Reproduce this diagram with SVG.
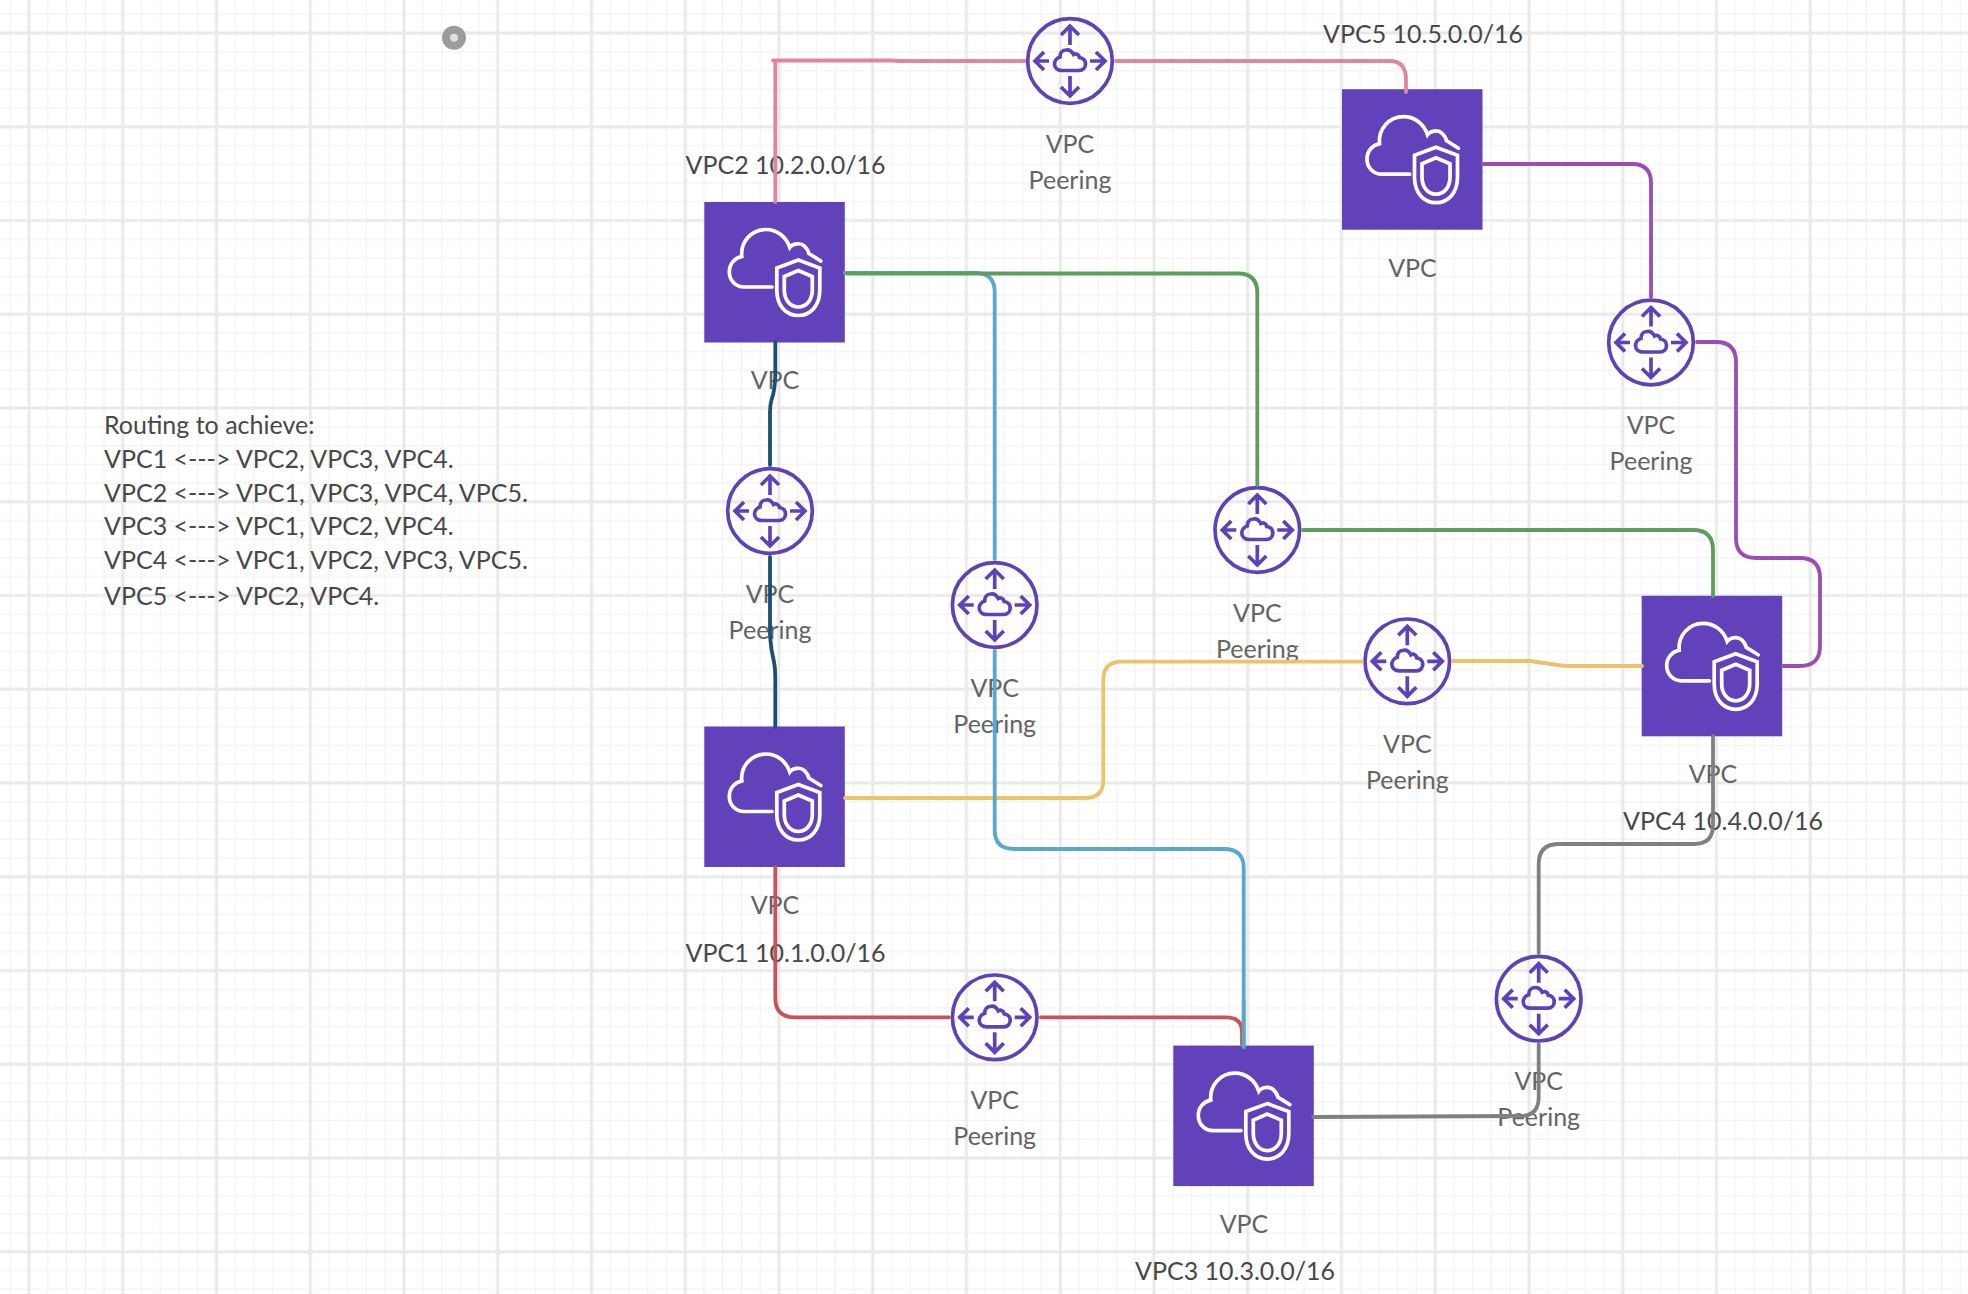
<svg xmlns="http://www.w3.org/2000/svg" width="1968" height="1294" viewBox="0 0 1968 1294">
<style>
text{font-family:Lato,"Liberation Sans",sans-serif;font-size:25px}
.cap{fill:#646464;text-anchor:middle}
.lbl{fill:#484848}
.note{fill:#484848}
.box{fill:#6142bb}
.ws{fill:none;stroke:#fff;stroke-width:3.7;stroke-linecap:round;stroke-linejoin:miter}
.ps{fill:none;stroke:#5f42b8;stroke-width:3.7;stroke-linecap:butt;stroke-linejoin:miter}
.c{fill:none;stroke-width:3.8;stroke-linecap:round;stroke-linejoin:round}
</style>
<defs>
<pattern id="grid" x="29" y="33" width="93.75" height="93.75" patternUnits="userSpaceOnUse">
<path d="M18.75 0V93.75M37.5 0V93.75M56.25 0V93.75M75 0V93.75M0 18.75H93.75M0 37.5H93.75M0 56.25H93.75M0 75H93.75" fill="none" stroke="#f3f3f3" stroke-width="1.2"/>
<path d="M0 0V93.75M0 0H93.75M93.75 0V93.75M0 93.75H93.75" fill="none" stroke="#e9e9e9" stroke-width="3"/>
</pattern>
<g id="vpc-icon">
<rect class="box" width="140.5" height="140.5"/>
<path class="ws" d="M67.7 85H40C31 85 25 78 25 70C25 62 30 56 37.5 54.5C36 40 47 27.5 61.5 27.5C73 27.5 82 35 85.5 45.5C88 42 96 40 100 44C102 46 104 48 104.5 51.5L116.5 59"/>
<path class="ws" d="M94 58L115.5 66V88C115.5 104 106 113.5 94 113.5C82 113.5 72.5 104 72.5 88V66Z"/>
<path class="ws" d="M94 68.5L108 74.5V88C108 98 102 105 94 105C86 105 80 98 80 88V74.5Z"/>
</g>
<g id="peer-icon">
<circle class="ps" r="42.3"/>
<path class="ps" d="M0-35V-16M-9-26L0-35L9-26M0 35V15M-9 26L0 35L9 26M-35 0H-21M-26-9L-35 0L-26 9M35 0H20M26-9L35 0L26 9"/>
<path class="ps" d="M-8 9.5H9C13 9.5 15.5 6.5 15.5 3C15.5-.5 13-3 9.5-3.5C9-6.5 6-8 3.5-6.5C2-9.5-1-11.5-4-11C-8-11-10-7.5-10-4C-13-3-15.5 0-15.5 3C-15.5 7-12 9.5-8 9.5Z"/>
</g>
</defs>
<rect width="1968" height="1294" fill="#fff"/>
<rect width="1968" height="1294" fill="url(#grid)"/>
<g id="marker-dot"><ellipse cx="454" cy="37.7" rx="12" ry="12" fill="#9c9c9c"/><circle cx="454" cy="37.7" r="4" fill="#e0e0e0"/></g>
<g id="routing-note">
<text class="note" x="104" y="434">Routing to achieve:</text>
<text class="note" x="104" y="468">VPC1 &lt;---&gt; VPC2, VPC3, VPC4.</text>
<text class="note" x="104" y="502">VPC2 &lt;---&gt; VPC1, VPC3, VPC4, VPC5.</text>
<text class="note" x="104" y="535">VPC3 &lt;---&gt; VPC1, VPC2, VPC4.</text>
<text class="note" x="104" y="569">VPC4 &lt;---&gt; VPC1, VPC2, VPC3, VPC5.</text>
<text class="note" x="104" y="605">VPC5 &lt;---&gt; VPC2, VPC4.</text>
</g>
<g id="vpc2"><use href="#vpc-icon" x="704.3" y="202"/><text class="cap" x="775" y="389">VPC</text><text class="lbl" x="685.5" y="174">VPC2 10.2.0.0/16</text></g>
<g id="vpc1"><use href="#vpc-icon" x="704.3" y="726.5"/><text class="cap" x="775" y="914">VPC</text><text class="lbl" x="685.5" y="962">VPC1 10.1.0.0/16</text></g>
<g id="vpc3"><use href="#vpc-icon" x="1173.3" y="1045.6"/><text class="cap" x="1244" y="1233">VPC</text><text class="lbl" x="1135" y="1280">VPC3 10.3.0.0/16</text></g>
<g id="vpc4"><use href="#vpc-icon" x="1641.7" y="595.8"/><text class="cap" x="1713" y="783">VPC</text><text class="lbl" x="1623" y="830">VPC4 10.4.0.0/16</text></g>
<g id="vpc5"><use href="#vpc-icon" x="1342" y="89.2"/><text class="cap" x="1412.5" y="277">VPC</text><text class="lbl" x="1323" y="43">VPC5 10.5.0.0/16</text></g>
<g id="peer-1-2"><use href="#peer-icon" x="770" y="511"/><text class="cap" x="770" y="603">VPC</text><text class="cap" x="770" y="639">Peering</text></g>
<g id="peer-2-5"><use href="#peer-icon" x="1070" y="61"/><text class="cap" x="1070" y="153">VPC</text><text class="cap" x="1070" y="189">Peering</text></g>
<g id="peer-4-5"><use href="#peer-icon" x="1651" y="342.5"/><text class="cap" x="1651" y="434">VPC</text><text class="cap" x="1651" y="470">Peering</text></g>
<g id="peer-2-4"><use href="#peer-icon" x="1257.3" y="530"/><text class="cap" x="1257.3" y="622">VPC</text><text class="cap" x="1257.3" y="658">Peering</text></g>
<g id="peer-2-3"><use href="#peer-icon" x="994.7" y="605"/><text class="cap" x="994.7" y="697">VPC</text><text class="cap" x="994.7" y="733">Peering</text></g>
<g id="peer-1-4"><use href="#peer-icon" x="1407.3" y="661.3"/><text class="cap" x="1407.3" y="753">VPC</text><text class="cap" x="1407.3" y="789">Peering</text></g>
<g id="peer-1-3"><use href="#peer-icon" x="994.7" y="1017.3"/><text class="cap" x="994.7" y="1109">VPC</text><text class="cap" x="994.7" y="1145">Peering</text></g>
<g id="peer-3-4"><use href="#peer-icon" x="1538.7" y="998.7"/><text class="cap" x="1538.7" y="1090">VPC</text><text class="cap" x="1538.7" y="1126">Peering</text></g>
<g id="connectors">
<path class="c" stroke="#e0859f" d="M775.3 202V61M773 60.5H891L900 61H1024.5"/>
<path class="c" stroke="#e0859f" d="M1116 61H1390Q1406 61 1406 80V92"/>
<path class="c" stroke="#58a8cf" d="M845 272.8H975Q994.7 272.8 994.7 292V559"/>
<path class="c" stroke="#5e9e5c" d="M847 273.5H1238Q1257.3 273.5 1257.3 293V485"/>
<path class="c" stroke="#5e9e5c" d="M1303 530H1693Q1713 530 1713 550V596"/>
<path class="c" stroke="#edc26b" d="M845 798H1085Q1103.3 798 1103.3 780V680Q1103.3 661.7 1122 661.7H1362"/>
<path class="c" stroke="#edc26b" d="M1453 661H1530L1565 666H1642"/>
<path class="c" stroke="#58a8cf" d="M994.7 651V830Q994.7 849 1014 849H1224Q1243.7 849 1243.7 868V1047"/>
<path class="c" stroke="#c9535a" d="M775.3 867V998Q775.3 1017.3 795 1017.3H949"/>
<path class="c" stroke="#c9535a" d="M1041 1017.3H1226Q1242 1017.3 1242 1032V1044"/>
<path class="c" stroke="#58a8cf" d="M1243.7 1000V1047"/>
<path class="c" stroke="#1d4e75" d="M775.3 342V376Q775 390 771.5 400Q770 405 770 412V465"/>
<path class="c" stroke="#1d4e75" d="M770 557V636Q771 650 774 662Q775.3 668 775.3 680V727"/>
<path class="c" stroke="#9b4db5" d="M1482.5 164H1632Q1651 164 1651 183V297"/>
<path class="c" stroke="#9b4db5" d="M1697 342H1716Q1736 342 1736 362V538Q1736 558 1756 558H1800Q1820 558 1820 578V646Q1820 666 1800 666H1783"/>
<path class="c" stroke="#808080" d="M1713 736V825Q1713 844 1694 844H1558Q1538.7 844.5 1538.7 864V953"/>
<path class="c" stroke="#808080" d="M1538.7 1044V1097Q1538.7 1116 1520 1116L1313 1117"/>
</g>
</svg>
